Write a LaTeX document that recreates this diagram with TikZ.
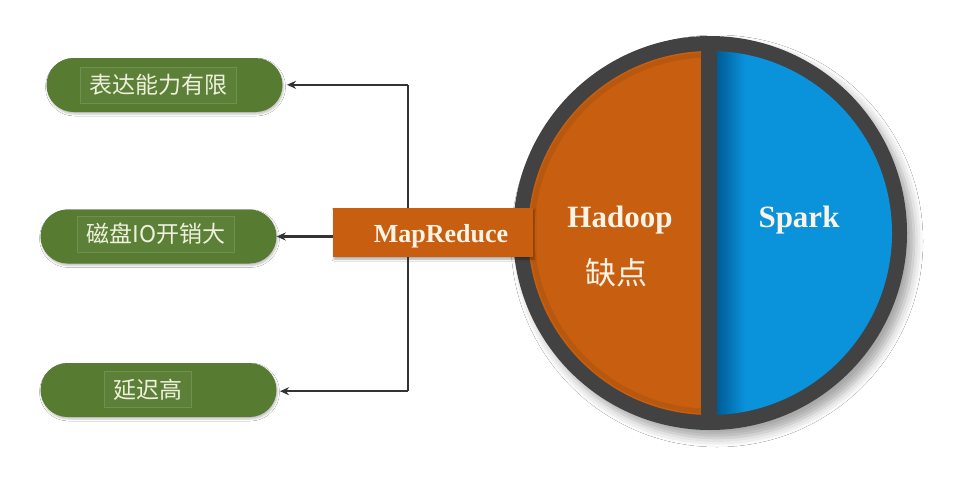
\documentclass[tikz,border=0pt]{standalone}
\usepackage{fontspec}
\setmainfont{Liberation Serif}
\newfontfamily\cjk{Noto Sans CJK SC}
\usetikzlibrary{shapes.misc,shadows,shadows.blur,arrows.meta}
\definecolor{pillgreen}{HTML}{567B31}
\definecolor{pillline}{HTML}{6F9050}
\definecolor{pilltext}{HTML}{EEF0DC}
\definecolor{hadorange}{HTML}{C85F10}
\definecolor{sparkblue}{HTML}{0A92DB}
\definecolor{sparkdark}{HTML}{005C96}
\definecolor{ringgrey}{HTML}{424242}
\definecolor{linegrey}{HTML}{333333}
\definecolor{labelcream}{HTML}{FBF3E6}
\tikzset{
  pill/.style={rounded rectangle, fill=pillgreen, minimum width=236pt, minimum height=54pt,
    inner sep=0pt, blur shadow={shadow xshift=1pt, shadow yshift=-2pt, shadow blur radius=2pt, shadow opacity=25}},
  pilllabel/.style={draw=pillline, line width=0.6pt, fill=pillgreen!96!white, text=pilltext,
    font=\cjk\fontsize{23}{23}\selectfont, inner xsep=9pt, minimum height=36pt, inner ysep=0pt},
  arr/.style={draw=linegrey, line width=2.4pt, -{Stealth[length=9pt,width=8pt]}},
  conn/.style={draw=linegrey, line width=2.4pt},
  mrbox/.style={fill=hadorange, minimum width=200pt, minimum height=49pt, inner sep=0pt,
    blur shadow={shadow xshift=1pt, shadow yshift=-2pt, shadow blur radius=2pt, shadow opacity=35}},
  biglabel/.style={text=labelcream, font=\bfseries\fontsize{31}{31}\selectfont, inner sep=0pt},
}
\begin{document}
\begin{tikzpicture}[x=1pt,y=-1pt]
\useasboundingbox[fill=white] (0,0) rectangle (968,498);
% circle with shadow
\fill[ringgrey, blur shadow={shadow xshift=7pt, shadow yshift=-8pt, shadow blur radius=9pt, shadow opacity=35}] (710,233) circle (197);
\begin{scope}
  \clip (710,233) circle (182);
  \fill[hadorange] (500,0) rectangle (701,500);
  \shade[left color=sparkdark, right color=sparkblue] (717,0) rectangle (745,500);
  \fill[sparkblue] (744.5,0) rectangle (920,500);
\end{scope}
\begin{scope}
  \clip (500,0) rectangle (701,500);
  \draw[hadorange!75!black, opacity=0.3, line width=5pt] (710,233) circle (178);
\end{scope}
% labels in the circle
\node[biglabel, anchor=base] (hadoop) at (620,227) {Hadoop};
\node[biglabel, font=\cjk\fontsize{31}{31}\selectfont] (que) at (616,273) {缺点};
\node[biglabel, anchor=base] (spark) at (799,227) {Spark};
% MapReduce box
\node[mrbox] (mr) at (433,232.5) {};
\node[text=labelcream, font=\bfseries\fontsize{26}{26}\selectfont, inner sep=0pt] (mrt) at (441,236) {MapReduce};
% pills
\node[pill] (p1) at (164.5,85) {};
\node[pill] (p2) at (158.5,236.5) {};
\node[pill] (p3) at (158.5,390) {};
\node[pilllabel] (t1) at (158,85) {表达能力有限};
\node[pilllabel] (t2) at (156,234) {磁盘IO开销大};
\node[pilllabel] (t3) at (148,389.5) {延迟高};
% connectors
\coordinate (j) at (408,0);
\draw[conn] (mr.north -| j) -- ++(0,-123) coordinate (c1);
\draw[arr] (c1) -- ++(-121,0);
\draw[conn] (mr.south -| j) -- ++(0,134) coordinate (c3);
\draw[arr] (c3) -- ++(-128,0);
\draw[arr] (mr.west |- p2.east) -- (p2.east);
\end{tikzpicture}
\end{document}
